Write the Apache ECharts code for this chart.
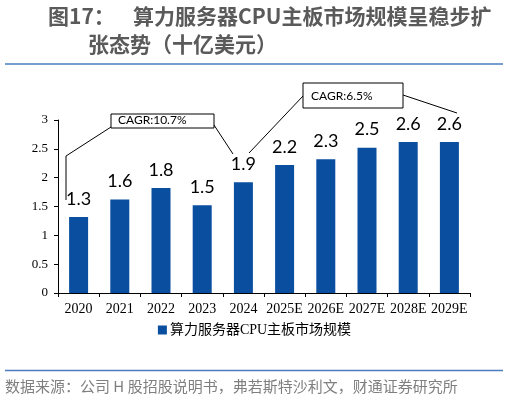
<!DOCTYPE html>
<html>
<head>
<meta charset="utf-8">
<script src="https://cdn.jsdelivr.net/npm/echarts@6/dist/echarts.min.js"></script>
<style>
html,body{margin:0;padding:0;background:#fff;}
#c{width:509px;height:401px;}
</style>
</head>
<body>
<div id="c"></div>
<script>
const categories = ['2020','2021','2022','2023','2024','2025E','2026E','2027E','2028E','2029E'];
const marketSize = [1.32, 1.62, 1.82, 1.52, 1.92, 2.22, 2.32, 2.52, 2.62, 2.62];
const seriesName = '算力服务器CPU主板市场规模';
const yTicks = [0, 0.5, 1, 1.5, 2, 2.5, 3];
const cagrLabels = ['CAGR:10.7%', 'CAGR:6.5%'];

const chart = echarts.init(document.getElementById('c'));
const lineStyle = {stroke:'#000', lineWidth:1};
chart.setOption({
  animation:false,
  grid:{left:58, right:39, top:120, bottom:108},
  legend:{
    data:[seriesName], top:318, left:'center', icon:'rect', itemWidth:9, itemHeight:9, itemGap:4,
    textStyle:{fontFamily:'"Liberation Serif","Noto Sans CJK SC"', fontSize:14, color:'#000', padding:[0,0,0,-2]}
  },
  xAxis:{
    type:'category', data:categories,
    axisLine:{lineStyle:{color:'#000', width:1}},
    axisTick:{show:true, length:4, lineStyle:{color:'#000'}},
    axisLabel:{fontFamily:'"Liberation Serif"', fontSize:14, color:'#000', margin:9, interval:0}
  },
  yAxis:{
    type:'value', min:yTicks[0], max:yTicks[yTicks.length-1], interval:0.5,
    splitLine:{show:false},
    axisLine:{show:true, lineStyle:{color:'#000', width:1}},
    axisTick:{show:true, length:4, lineStyle:{color:'#000'}},
    axisLabel:{fontFamily:'"Liberation Serif"', fontSize:13, color:'#000', margin:10}
  },
  series:[{
    name:seriesName, type:'bar', data:marketSize, barWidth:19,
    itemStyle:{color:'#0A4EA0'},
    label:{show:true, position:'top', distance:9, fontFamily:'Lato', fontSize:18, color:'#000',
      formatter:p=>p.value.toFixed(1)}
  }],
  graphic:[
    {type:'text', left:48, top:6, style:{text:'图17：', font:'bold 21px "Noto Sans CJK SC"', fill:'#5a5a5a'}},
    {type:'text', left:133, top:6, style:{text:'算力服务器CPU主板市场规模呈稳步扩', font:'bold 21px "Noto Sans CJK SC"', fill:'#5a5a5a'}},
    {type:'text', left:88, top:34, style:{text:'张态势（十亿美元）', font:'bold 21px "Noto Sans CJK SC"', fill:'#5a5a5a'}},
    {type:'line', shape:{x1:5, y1:64, x2:503, y2:64}, style:{stroke:'#4a7cc0', lineWidth:1.5}},
    {type:'line', shape:{x1:5, y1:370.5, x2:503, y2:370.5}, style:{stroke:'#4a7cc0', lineWidth:1.5}},
    {type:'text', left:5, top:379, style:{text:'数据来源：公司 H 股招股说明书，弗若斯特沙利文，财通证券研究所', font:'15px "Noto Sans CJK SC"', fill:'#7f7f7f'}},
    // CAGR box 1
    {type:'rect', shape:{x:111, y:114, width:103, height:14}, style:{fill:'#fff', stroke:'#000', lineWidth:1}},
    {type:'text', left:118, top:114.5, style:{text:cagrLabels[0], font:'12px Lato', fill:'#000'}},
    {type:'polyline', shape:{points:[[111,127],[66,156],[66,200]]}, style:Object.assign({fill:null}, lineStyle)},
    {type:'line', shape:{x1:214, y1:125, x2:233, y2:154}, style:lineStyle},
    // CAGR box 2
    {type:'rect', shape:{x:303, y:83, width:100, height:25}, style:{fill:'#fff', stroke:'#000', lineWidth:1}},
    {type:'text', left:311, top:90, style:{text:cagrLabels[1], font:'12px Lato', fill:'#000'}},
    {type:'line', shape:{x1:303, y1:96, x2:249, y2:153}, style:lineStyle},
    {type:'line', shape:{x1:403, y1:95, x2:457, y2:113}, style:lineStyle}
  ]
});
</script>
</body>
</html>
